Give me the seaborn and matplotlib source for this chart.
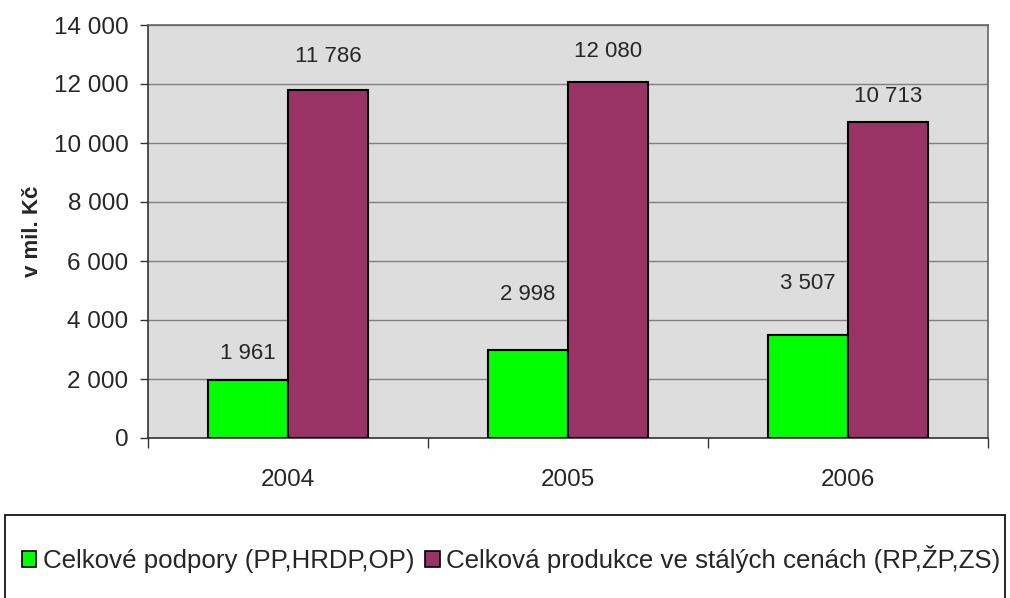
import matplotlib
matplotlib.use('Agg')
import matplotlib.pyplot as plt
import matplotlib.patches as mpatches
from matplotlib.ticker import FuncFormatter, FixedLocator
import pandas as pd
import seaborn as sns

# ─── Data ─────────────────────────────────────────────────────────────────────
years = ['2004', '2005', '2006']
series = ['Celkové podpory (PP,HRDP,OP)',
          'Celková produkce ve stálých cenách (RP,ŽP,ZS)']
podpory = [1961, 2998, 3507]
produkce = [11786, 12080, 10713]
colors = ['#00FF00', '#993366']

# label offsets above bar tops (points), mimics the original placement
label_offsets = [[19, 24], [40, 22], [37, 18]]

df = pd.DataFrame({
    'rok': years * 2,
    'serie': [series[0]] * 3 + [series[1]] * 3,
    'hodnota': podpory + produkce,
})

sns.set_style('white')
plt.rcParams['font.family'] = ['Liberation Sans', 'DejaVu Sans']

fig = plt.figure(figsize=(10.10, 5.98), dpi=100)
ax = fig.add_axes([148 / 1010, 1 - 438 / 598, 840 / 1010, 413 / 598])
ax.set_facecolor('#DDDDDD')

sns.barplot(data=df, x='rok', y='hodnota', hue='serie', palette=colors,
            width=0.572, edgecolor='black', linewidth=1.5, saturation=1,
            legend=False, ax=ax, zorder=3)

# ─── Value labels ─────────────────────────────────────────────────────────────
for j, cont in enumerate(ax.containers):
    for i, bar in enumerate(cont):
        h = bar.get_height()
        ax.annotate(f'{h:,.0f}'.replace(',', ' '),
                    (bar.get_x() + bar.get_width() / 2, h),
                    xytext=(0, label_offsets[i][j]), textcoords='offset points',
                    ha='center', va='center', fontsize=16)

# ─── Axes styling ─────────────────────────────────────────────────────────────
ax.set_ylim(0, 14000)
ax.set_xlim(-0.5, 2.5)
ax.yaxis.set_major_locator(FixedLocator(range(0, 14001, 2000)))
ax.yaxis.set_major_formatter(FuncFormatter(lambda v, p: f'{v:,.0f}'.replace(',', ' ')))
ax.yaxis.grid(True, color='#808080', linewidth=1, zorder=0)
ax.set_axisbelow(True)

ax.tick_params(axis='y', which='major', direction='out', length=6, width=1,
               labelsize=17.5, pad=8, left=True, color='#333333')
ax.tick_params(axis='x', which='major', length=0, labelsize=17.5, pad=22)
ax.xaxis.set_minor_locator(FixedLocator([-0.5, 0.5, 1.5, 2.5]))
ax.tick_params(axis='x', which='minor', direction='out', length=7, width=1,
               bottom=True, color='#333333')

ax.set_xlabel('')
ax.set_ylabel('v mil. Kč', fontsize=16, fontweight='bold', labelpad=8)

for side in ['left', 'bottom']:
    ax.spines[side].set_color('#333333')
    ax.spines[side].set_linewidth(1.2)
for side in ['top', 'right']:
    ax.spines[side].set_color('#666666')
    ax.spines[side].set_linewidth(1.2)

# ─── Legend in a framed box at the bottom ────────────────────────────────────
box = mpatches.Rectangle((5 / 1010, -0.05), 1000 / 1010, 1 - 515 / 598 + 0.05,
                         transform=fig.transFigure, fill=False,
                         edgecolor='black', linewidth=1.2)
fig.patches.append(box)

handles = [mpatches.Patch(facecolor=c, edgecolor='black', linewidth=1.2)
           for c in colors]
fig.legend(handles, series, loc='center', ncol=2, frameon=False,
           bbox_to_anchor=(511 / 1010, 1 - 559 / 598), fontsize=18.6,
           handlelength=0.58, handleheight=0.58, handletextpad=0.25,
           columnspacing=0.4, borderaxespad=0)

fig.savefig('out.png', dpi=100)
plt.close(fig)
